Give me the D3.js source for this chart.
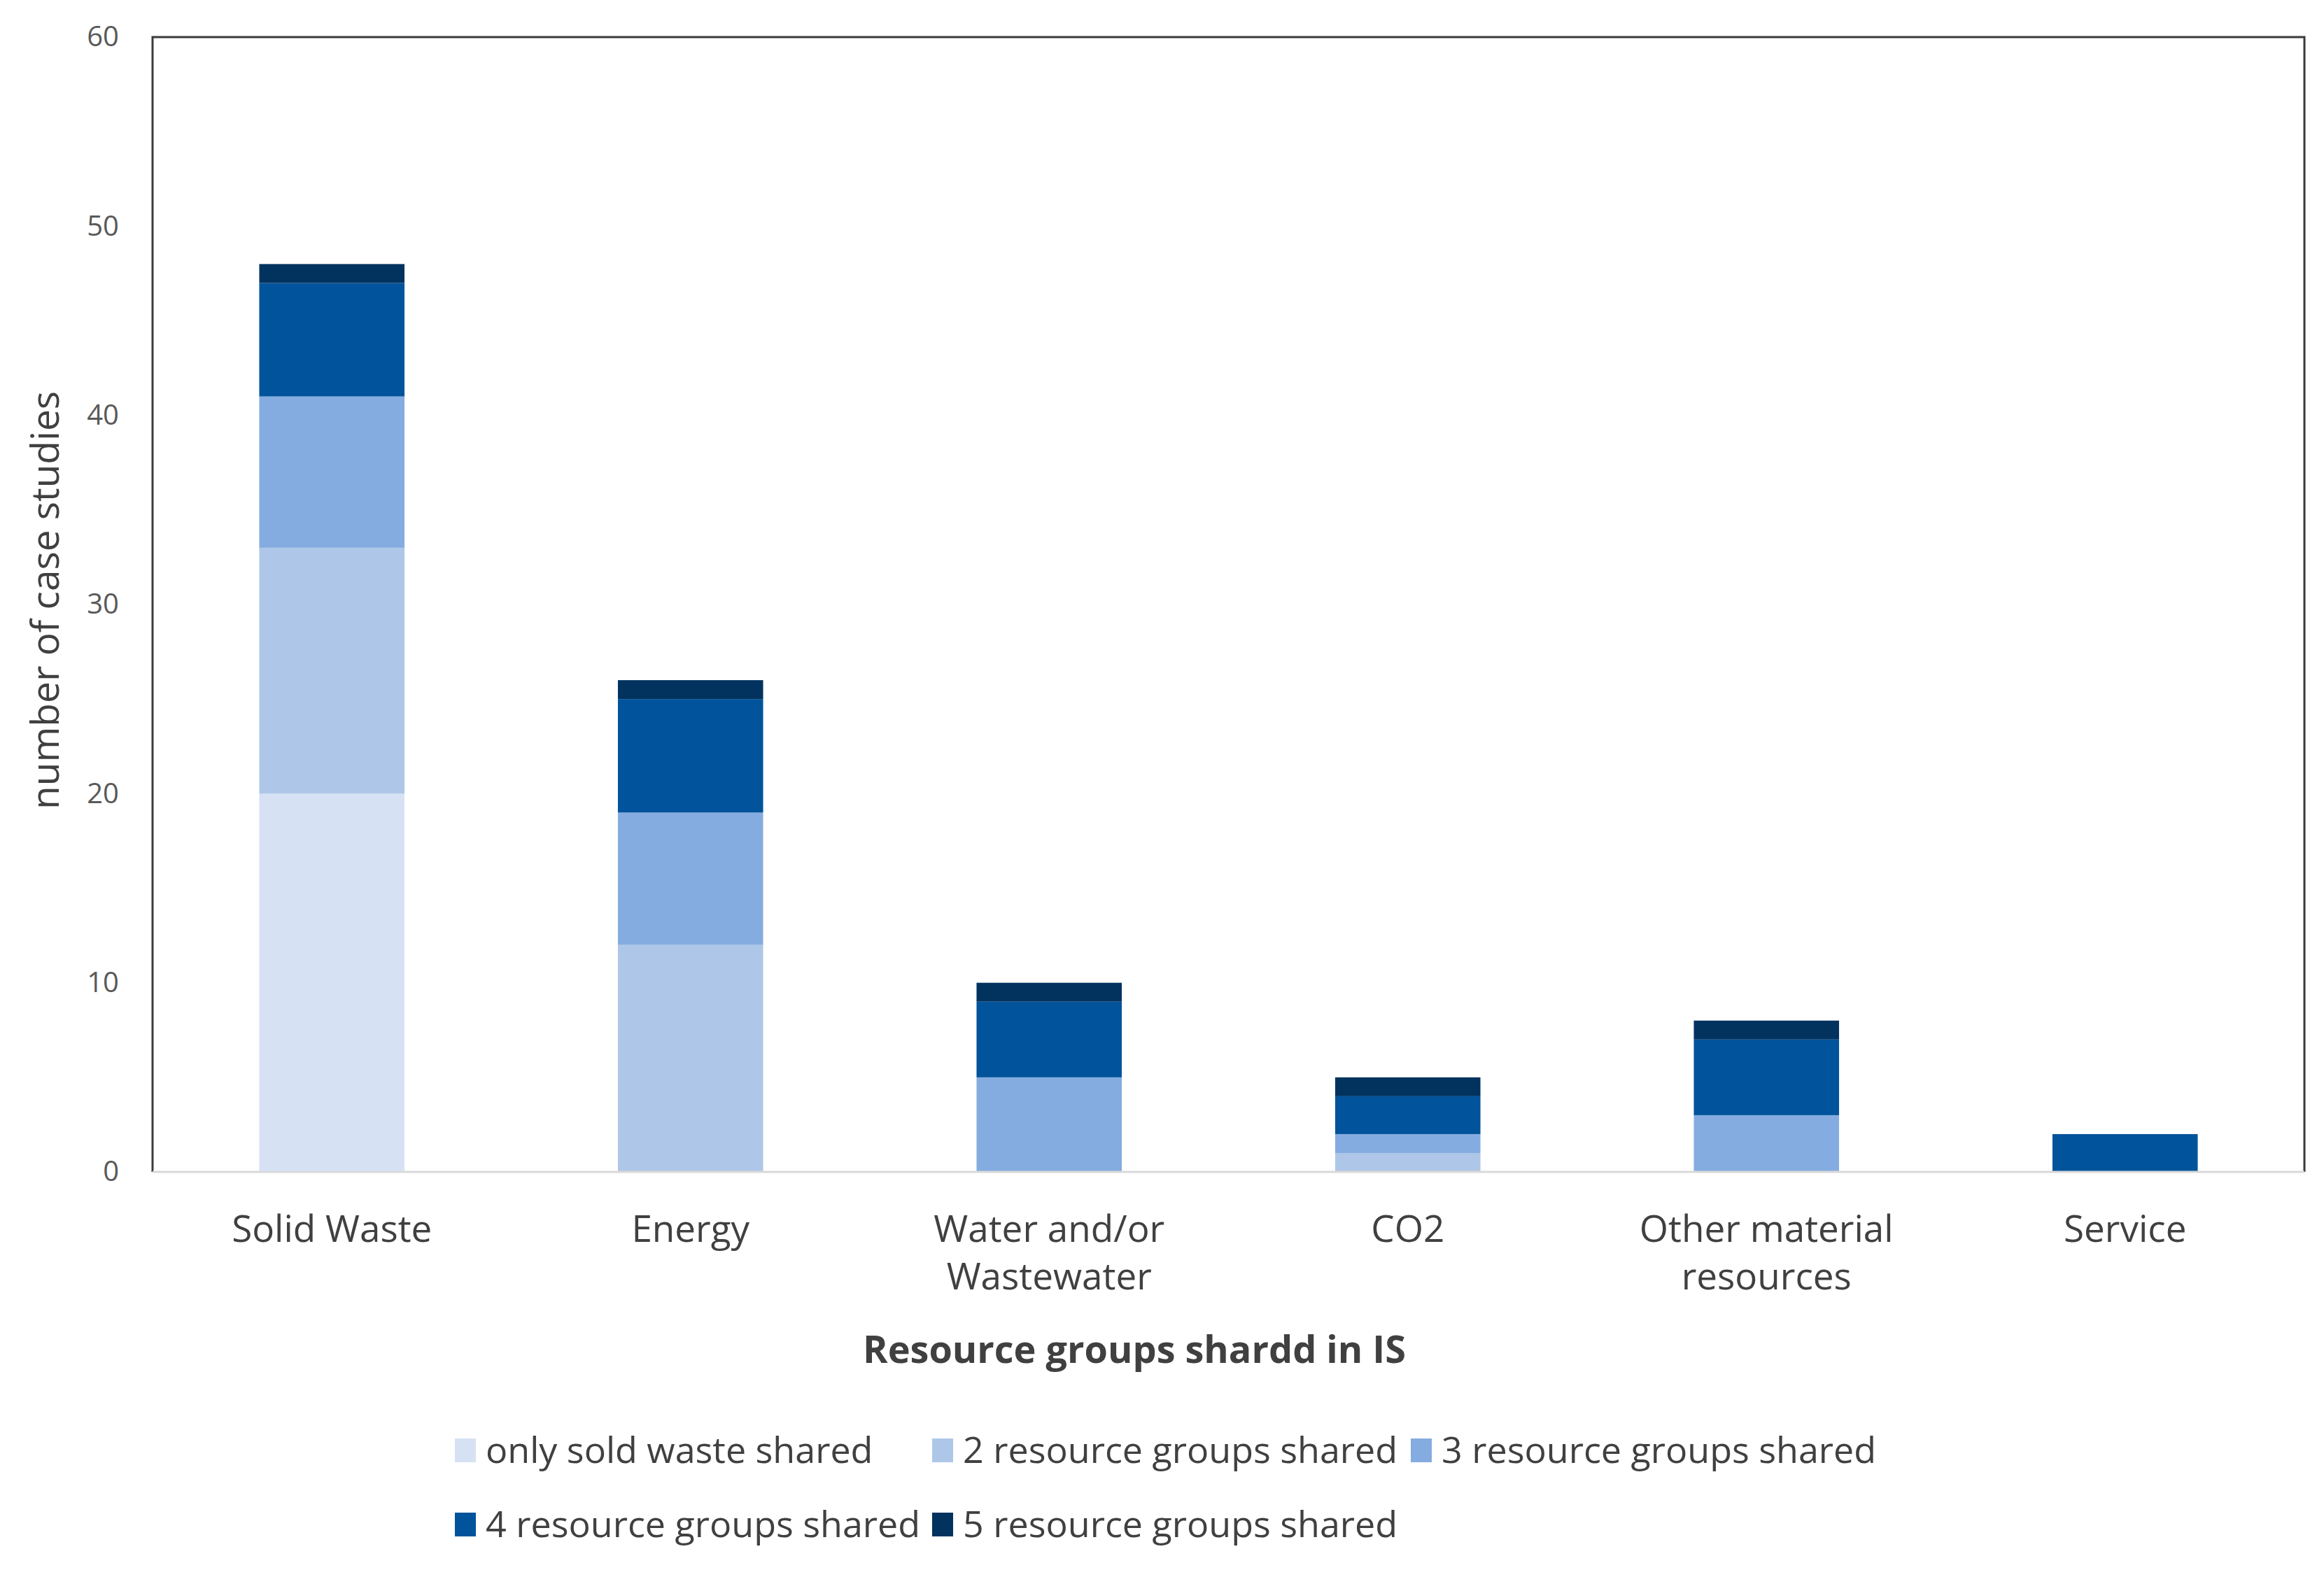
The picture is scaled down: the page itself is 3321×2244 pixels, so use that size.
<!DOCTYPE html>
<html>
<head>
<meta charset="utf-8">
<script src="https://cdn.jsdelivr.net/npm/d3@7"></script>
<style>
  body { margin: 0; background: #fff; }
  svg { display: block; font-family: "Open Sans", "Noto Sans", sans-serif; }
</style>
</head>
<body>
<div class="chart"></div>
<script>
// categories on the x axis (second line after \n)
var categories = ["Solid Waste", "Energy", "Water and/or\nWastewater", "CO2", "Other material\nresources", "Service"];
var seriesNames = ["only sold waste shared", "2 resource groups shared", "3 resource groups shared",
                   "4 resource groups shared", "5 resource groups shared"];
var seriesColors = ["#d6e2f4", "#aec7e8", "#85ace0", "#01539b", "#02335f"];

// values per series, one per category
var onlySolid = [20, 0, 0, 0, 0, 0];
var twoGroups = [13, 12, 0, 1, 0, 0];
var threeGroups = [8, 7, 5, 1, 3, 0];
var fourGroups = [6, 6, 4, 2, 4, 2];
var fiveGroups = [1, 1, 1, 1, 1, 0];

var yTicks = [0, 10, 20, 30, 40, 50, 60];
var xTitle = "Resource groups shardd in IS";
var yTitle = "number of case studies";

var W = 3321, H = 2244;
var plot = {left: 218, top: 53, right: 3293, bottom: 1675};

var svg = d3.select(".chart").append("svg")
    .attr("width", W)
    .attr("height", H);

svg.append("rect").attr("width", W).attr("height", H).attr("fill", "#fff");

var table = categories.map(function(c, i) {
    return {cat: c, s0: onlySolid[i], s1: twoGroups[i], s2: threeGroups[i], s3: fourGroups[i], s4: fiveGroups[i]};
});
var keys = ["s0", "s1", "s2", "s3", "s4"];
var stacked = d3.stack().keys(keys)(table);

var x = d3.scaleBand()
    .domain(categories)
    .range([plot.left, plot.right])
    .paddingInner(0.595)
    .paddingOuter(0.2975);

var y = d3.scaleLinear()
    .domain([0, 60])
    .range([plot.bottom, plot.top]);

var color = d3.scaleOrdinal().domain(keys).range(seriesColors);

// bars
var layers = svg.append("g").selectAll("g")
    .data(stacked)
    .enter().append("g")
    .attr("fill", function(d) { return color(d.key); });

layers.selectAll("rect")
    .data(function(d) { return d; })
    .enter().append("rect")
    .attr("x", function(d) { return x(d.data.cat); })
    .attr("y", function(d) { return y(d[1]); })
    .attr("width", x.bandwidth())
    .attr("height", function(d) { return y(d[0]) - y(d[1]); });

// plot frame: dark on left/top/right, light gray category axis line at bottom
svg.append("path")
    .attr("d", "M" + plot.left + "," + plot.bottom + "V" + plot.top + "H" + plot.right + "V" + plot.bottom)
    .attr("fill", "none")
    .attr("stroke", "#3a3a3a")
    .attr("stroke-width", 3);

svg.append("line")
    .attr("x1", plot.left).attr("x2", plot.right)
    .attr("y1", plot.bottom).attr("y2", plot.bottom)
    .attr("stroke", "#d9d9d9")
    .attr("stroke-width", 3);

// y axis labels
var yAxis = svg.append("g")
    .attr("transform", "translate(" + plot.left + ",0)")
    .call(d3.axisLeft(y).tickValues(yTicks).tickSize(0).tickPadding(48));
yAxis.select(".domain").remove();
yAxis.selectAll("text")
    .attr("fill", "#595959")
    .style("font-size", "40px")
    .style("font-family", "Open Sans");

// x axis labels
var xAxis = svg.append("g")
    .attr("transform", "translate(0," + plot.bottom + ")")
    .call(d3.axisBottom(x).tickSize(0).tickFormat(""));
xAxis.select(".domain").remove();

xAxis.selectAll(".tick").append("text")
    .attr("fill", "#404040")
    .attr("text-anchor", "middle")
    .style("font-size", "53px")
    .style("font-family", "Open Sans")
    .each(function(d) {
        var lines = d.split("\n");
        var t = d3.select(this);
        lines.forEach(function(l, i) {
            t.append("tspan").attr("x", 0).attr("y", 100 + i * 68).text(l);
        });
    });

// axis titles
svg.append("text")
    .attr("x", 1621)
    .attr("y", 1948)
    .attr("text-anchor", "middle")
    .attr("fill", "#404040")
    .style("font-size", "54px")
    .style("font-weight", "bold")
    .text(xTitle);

svg.append("text")
    .attr("transform", "translate(84,858) rotate(-90)")
    .attr("text-anchor", "middle")
    .attr("fill", "#404040")
    .style("font-size", "55px")
    .text(yTitle);

// legend
var legendCols = [650, 1332, 2016];
var legendRows = [2073, 2179];

var legend = svg.append("g").selectAll("g")
    .data(seriesNames)
    .enter().append("g")
    .attr("transform", function(d, i) {
        return "translate(" + legendCols[i % 3] + "," + legendRows[Math.floor(i / 3)] + ")";
    });

legend.append("rect")
    .attr("x", 0)
    .attr("y", -17)
    .attr("width", 30)
    .attr("height", 34)
    .attr("fill", function(d, i) { return seriesColors[i]; });

legend.append("text")
    .attr("x", 44)
    .attr("y", 18)
    .attr("fill", "#404040")
    .style("font-size", "52px")
    .text(function(d) { return d; });
</script>
</body>
</html>
